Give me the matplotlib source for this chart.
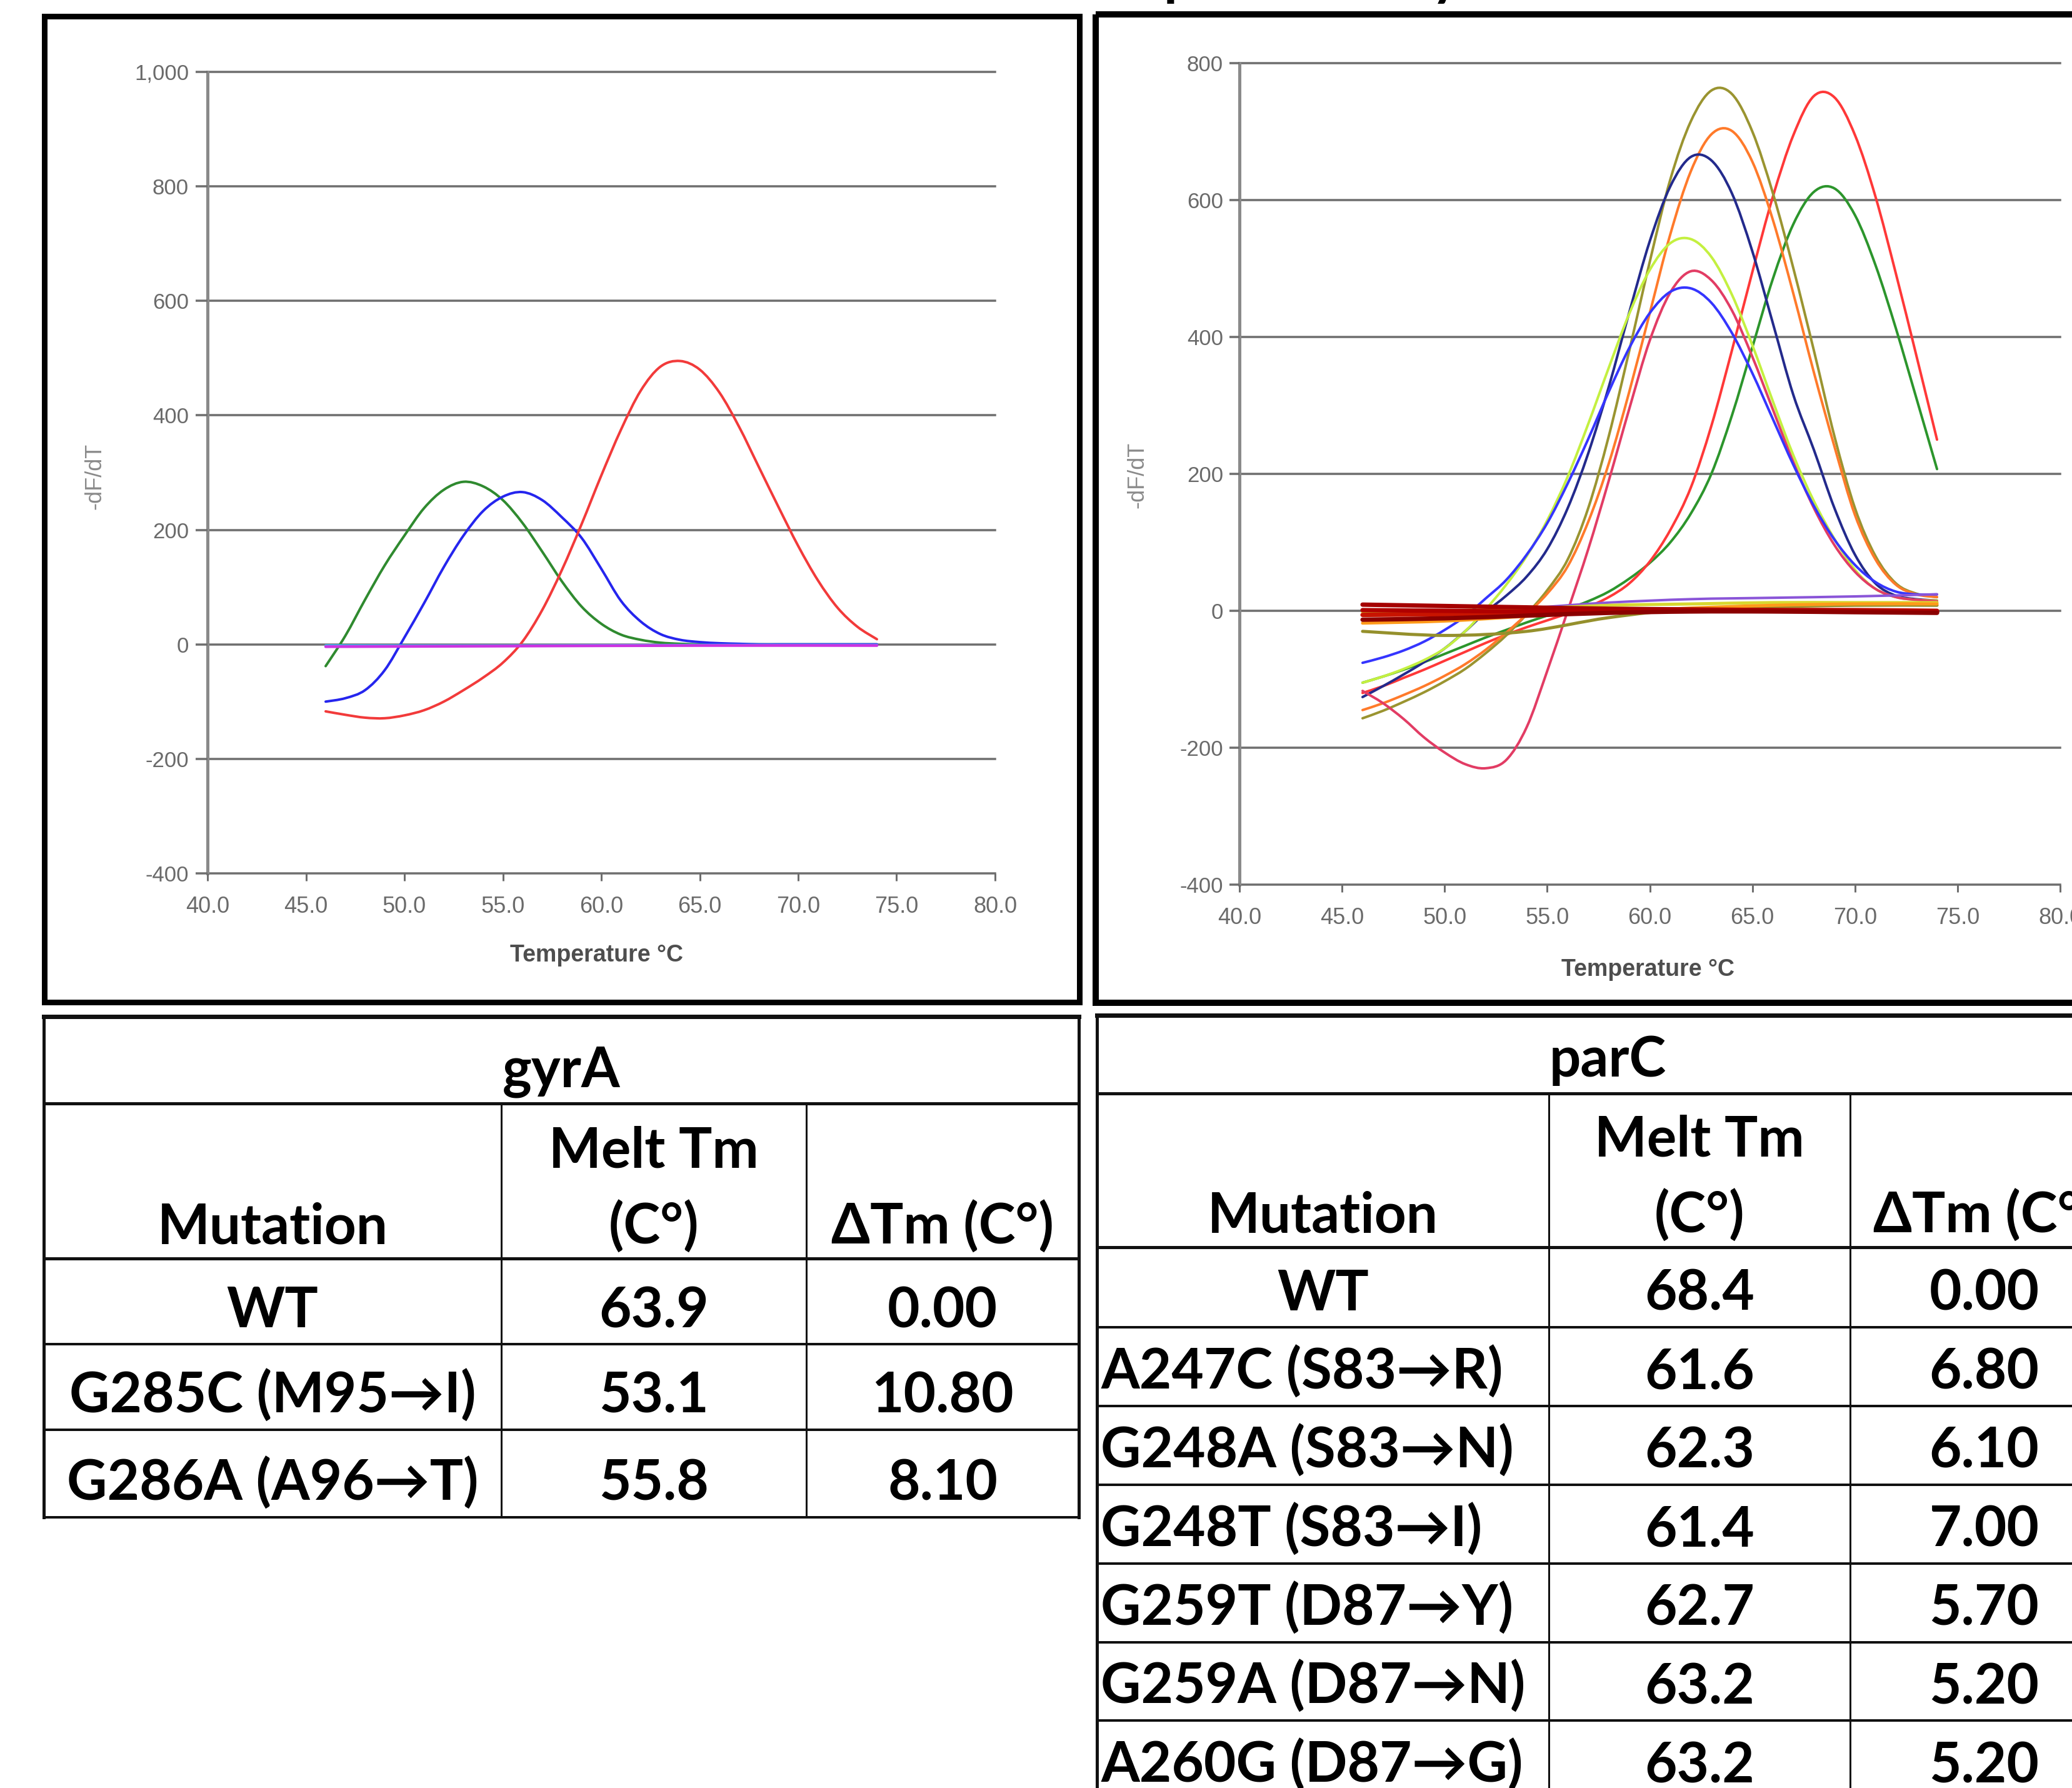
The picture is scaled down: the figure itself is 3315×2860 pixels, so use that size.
import matplotlib
matplotlib.use("Agg")
import matplotlib.pyplot as plt
from matplotlib.patches import Rectangle, PathPatch
from matplotlib.path import Path
from matplotlib.ticker import FuncFormatter

W, H, DPI = 3315, 2860, 100
plt.rcParams['axes.unicode_minus'] = False
plt.rcParams['font.family'] = ['Liberation Sans', 'DejaVu Sans']

# ---------------- data ----------------
temps = list(range(46, 75))

# gyrA  -dF/dT curves
gyrA_wt = [-117, -123, -128, -129, -124, -115, -100, -80, -58, -32, 5, 60, 130, 210, 295,
           375, 443, 485, 495, 480, 440, 380, 310, 240, 172, 112, 64, 31, 9]
gyrA_g285c = [-38, 15, 78, 138, 190, 238, 270, 284, 276, 252, 212, 162, 110, 66, 36,
              17, 8, 3, 1, 0, 0, 0, 0, 0, 0, 0, 0, 0, 0]
gyrA_g286a = [-100, -94, -80, -45, 12, 72, 135, 190, 233, 258, 266, 252, 222, 186, 132,
              76, 40, 18, 8, 4, 2, 1, 0, 0, 0, 0, 0, 0, 0]
gyrA_flat_t = [46, 55, 65, 74]
gyrA_ntc_a = [-4, -3, -2, -2]
gyrA_ntc_b = [-2, -2, -1, -1]

# parC  -dF/dT curves
parC_wt_a = [-120, -110, -98, -86, -73, -60, -47, -35, -24, -14, -4, 6, 20, 40, 72,
             118, 180, 270, 380, 495, 605, 695, 752, 750, 695, 605, 492, 372, 250]
parC_wt_b = [-105, -96, -86, -75, -63, -51, -39, -28, -17, -7, 3, 14, 28, 47, 70,
             100, 142, 200, 285, 385, 485, 565, 612, 617, 578, 505, 412, 310, 207]
parC_olive = [-157, -146, -133, -119, -103, -85, -62, -36, -5, 30, 75, 150, 255, 380, 510,
              630, 715, 760, 755, 700, 610, 500, 380, 255, 150, 80, 40, 25, 20]
parC_orange = [-145, -135, -123, -110, -95, -78, -57, -32, -5, 25, 65, 130, 215, 320, 435,
               550, 642, 696, 701, 656, 571, 463, 348, 240, 140, 75, 38, 24, 20]
parC_navy = [-126, -110, -93, -75, -55, -30, -2, 22, 50, 90, 150, 230, 327, 436, 540,
             620, 663, 658, 610, 525, 420, 315, 235, 150, 82, 40, 22, 17, 15]
parC_ygreen = [-105, -96, -85, -72, -55, -30, 2, 38, 80, 132, 196, 273, 355, 434, 498,
               537, 543, 517, 462, 388, 306, 227, 160, 105, 60, 32, 20, 16, 15]
parC_crimson = [-117, -135, -158, -185, -207, -224, -230, -218, -170, -88, 0, 90, 190, 295, 395,
                465, 496, 483, 439, 371, 294, 217, 150, 96, 57, 32, 20, 16, 14]
parC_blue = [-76, -68, -58, -45, -28, -8, 18, 45, 82, 128, 186, 251, 320, 384, 435,
             466, 471, 450, 406, 347, 280, 213, 153, 104, 67, 42, 28, 24, 24]

parC_flat_t = [46, 50, 54, 58, 62, 66, 70, 74]
parC_flat_purple = [-3, -1, 4, 12, 17, 19, 21, 24]
parC_flat_yellow = [-2, 0, 3, 8, 10, 12, 12, 12]
parC_flat_olive = [-30, -36, -30, -10, 3, 6, 8, 8]
parC_flat_orange = [-18, -15, -8, -2, 4, 8, 10, 10]
parC_flat_red1 = [9, 7, 5, 3, 2, 1, 0, -1]
parC_flat_red2 = [1, 0, -1, -1, 0, 0, -1, -2]
parC_flat_red3 = [-6, -5, -4, -2, 0, 1, 1, 0]
parC_flat_red4 = [-13, -11, -7, -3, -1, -1, -2, -3]

x_ticks = [40, 45, 50, 55, 60, 65, 70, 75, 80]
gyrA_yticks = [-400, -200, 0, 200, 400, 600, 800, 1000]
parC_yticks = [-400, -200, 0, 200, 400, 600, 800]

# tables
gyrA_mut = ["WT", "G285C (M95\u2192I)", "G286A (A96\u2192T)"]
gyrA_tm = [63.9, 53.1, 55.8]
gyrA_dtm = [0.00, 10.80, 8.10]
parC_mut = ["WT", "A247C (S83\u2192R)", "G248A (S83\u2192N)", "G248T (S83\u2192I)",
            "G259T (D87\u2192Y)", "G259A (D87\u2192N)", "A260G (D87\u2192G)"]
parC_tm = [68.4, 61.6, 62.3, 61.4, 62.7, 63.2, 63.2]
parC_dtm = [0.00, 6.80, 6.10, 7.00, 5.70, 5.20, 5.20]

# ---------------- figure ----------------
def px(v):
    return v * 72.0 / DPI

fig = plt.figure(figsize=(W / DPI, H / DPI), dpi=DPI)
fig.patch.set_facecolor('white')

ov = fig.add_axes([0, 0, 1, 1], zorder=0)
ov.set_xlim(0, W)
ov.set_ylim(H, 0)
ov.axis('off')

# chart frames
ov.add_patch(Rectangle((71, 25.5), 1726.5 - 71, 1602.5 - 25.5, fill=False,
                       lw=px(9), ec='black', joinstyle='miter'))
ov.add_patch(Rectangle((1753, 22.5), 3450 - 1753, 1603.5 - 22.5, fill=False,
                       lw=px(10), ec='black', joinstyle='miter'))

GRID = '#6e6e6e'
TICKC = '#6a6a6a'


def chart_axes(rect_px, ylo, yhi, yticks, yfmt, ytick_len, ypad):
    x0, y0, x1, y1 = rect_px
    ax = fig.add_axes([x0 / W, 1 - y1 / H, (x1 - x0) / W, (y1 - y0) / H], zorder=1)
    ax.set_xlim(40, 80)
    ax.set_ylim(ylo, yhi)
    ax.set_facecolor('none')
    for s in ['top', 'right', 'bottom']:
        ax.spines[s].set_visible(False)
    ax.spines['left'].set_color('#8a8a8a')
    ax.spines['left'].set_linewidth(px(5))
    ax.spines['left'].set_zorder(0.6)
    ax.set_xticks(x_ticks)
    ax.set_yticks(yticks)
    ax.yaxis.set_major_formatter(FuncFormatter(yfmt))
    ax.xaxis.set_major_formatter(FuncFormatter(lambda v, p: f'{v:.1f}'))
    for t in yticks:
        ax.axhline(t, color=GRID, lw=px(3.5), zorder=0.5, clip_on=False)
    ax.tick_params(axis='y', length=px(ytick_len), width=px(3.5), color=GRID,
                   pad=px(ypad), labelsize=25, labelcolor=TICKC)
    ax.tick_params(axis='x', length=px(12), width=px(3), color=GRID,
                   pad=px(24), labelsize=26, labelcolor=TICKC)
    return ax


def smooth_line(ax, xs, ys, color, lw, zorder):
    """Draw the read points joined by a smooth (Catmull-Rom) cubic path."""
    pts = list(zip(xs, ys))
    n = len(pts)
    verts = [pts[0]]
    codes = [Path.MOVETO]
    for i in range(n - 1):
        p0 = pts[i - 1] if i > 0 else pts[i]
        p1 = pts[i]
        p2 = pts[i + 1]
        p3 = pts[i + 2] if i + 2 < n else pts[i + 1]
        c1 = (p1[0] + (p2[0] - p0[0]) / 6.0, p1[1] + (p2[1] - p0[1]) / 6.0)
        c2 = (p2[0] - (p3[0] - p1[0]) / 6.0, p2[1] - (p3[1] - p1[1]) / 6.0)
        verts += [c1, c2, p2]
        codes += [Path.CURVE4] * 3
    ax.add_patch(PathPatch(Path(verts, codes), fill=False, edgecolor=color,
                           lw=lw, zorder=zorder, capstyle='round', joinstyle='round'))


ax1 = chart_axes((332, 115, 1592, 1397), -400, 1000, gyrA_yticks,
                 lambda v, p: f'{v:,.0f}', 19, 11)
ax2 = chart_axes((1983, 101, 3296, 1415), -400, 800, parC_yticks,
                 lambda v, p: f'{v:.0f}', 16, 10)

LW = px(4)
# gyrA curves
smooth_line(ax1, temps, gyrA_g285c, '#2f8a2f', LW, 2)
smooth_line(ax1, temps, gyrA_g286a, '#2525ee', LW, 2)
smooth_line(ax1, temps, gyrA_wt, '#f23a3a', LW, 2)
smooth_line(ax1, gyrA_flat_t, gyrA_ntc_b, '#3fb6ff', px(4), 3)
smooth_line(ax1, gyrA_flat_t, gyrA_ntc_a, '#cc33e0', px(4.5), 3)

# parC curves
for ys, c in [(parC_wt_b, '#2c952c'), (parC_wt_a, '#ff3838'),
              (parC_olive, '#9a9430'), (parC_orange, '#ff7a2a'),
              (parC_navy, '#232a8c'), (parC_ygreen, '#c4f040'),
              (parC_crimson, '#e23c64'), (parC_blue, '#3535ff')]:
    smooth_line(ax2, temps, ys, c, LW, 2)
for ys, c, w in [(parC_flat_purple, '#8a55d8', 4), (parC_flat_yellow, '#d8d830', 5),
                 (parC_flat_olive, '#95902c', 5), (parC_flat_orange, '#ff9a1a', 5),
                 (parC_flat_red3, '#c81400', 7), (parC_flat_red1, '#a50000', 7),
                 (parC_flat_red2, '#b00000', 7), (parC_flat_red4, '#8b0000', 7)]:
    smooth_line(ax2, parC_flat_t, ys, c, px(w), 3)

# axis titles
ov.text(955, 1528, 'Temperature \u00b0C', ha='center', va='center', fontsize=27,
        fontweight='bold', color='#4e4e4e')
ov.text(2636, 1551, 'Temperature \u00b0C', ha='center', va='center', fontsize=27,
        fontweight='bold', color='#4e4e4e')
ov.text(152, 762, '-dF/dT', ha='center', va='center', rotation=90, fontsize=26,
        color='#8a8a8a')
ov.text(1820, 760, '-dF/dT', ha='center', va='center', rotation=90, fontsize=26,
        color='#8a8a8a')

# cut-off heading fragments at the very top of the right panel
TF = ['Lato', 'DejaVu Sans']
ov.text(1862, -9, 'p', ha='left', va='baseline', fontsize=64, fontweight='bold',
        family=TF, color='black')
ov.text(2290, -9, 'y', ha='left', va='baseline', fontsize=64, fontweight='bold',
        family=TF, color='black')

# ---------------- tables ----------------
LC = '#111111'


def hl(y, x0, x1, w):
    ov.plot([x0, x1], [y, y], color=LC, lw=px(w), solid_capstyle='projecting', zorder=2)


def vl(x, y0, y1, w):
    ov.plot([x, x], [y0, y1], color=LC, lw=px(w), solid_capstyle='projecting', zorder=2)


def txt(x, y, s, ha='center'):
    ov.text(x, y, s, ha=ha, va='baseline', fontsize=64, fontweight='bold',
            family=TF, color='black', zorder=3)


def draw_table(title, xs, ys, muts, tms, dtms, left_mut=False):
    x0, xa, xb, x1 = xs
    top, ttl, hdr = ys[0], ys[1], ys[2]
    rows = ys[2:]
    hl(top, x0, x1, 7)
    hl(ttl, x0, x1, 5)
    hl(hdr, x0, x1, 5)
    for y in rows[1:]:
        hl(y, x0, x1, 4)
    vl(x0, top, rows[-1], 5)
    vl(x1, top, rows[-1], 5)
    vl(xa, ttl, rows[-1], 3)
    vl(xb, ttl, rows[-1], 3)
    c0, c1, c2 = (x0 + xa) / 2, (xa + xb) / 2, (xb + x1) / 2
    txt((x0 + x1) / 2, ttl - 27, title)
    txt(c1, hdr - 145, 'Melt Tm')
    txt(c1, hdr - 23, '(C\u00b0)')
    txt(c0, hdr - 23, 'Mutation')
    txt(c2, hdr - 23, '\u0394Tm (C\u00b0)')
    for i, (m, t, d) in enumerate(zip(muts, tms, dtms)):
        yb = rows[i + 1] - 27
        if left_mut and i > 0:
            txt(x0 + 6, yb, m, ha='left')
        else:
            txt(c0, yb, m)
        txt(c1, yb, f'{t:.1f}')
        txt(c2, yb, f'{d:.2f}')


draw_table('gyrA', (70, 802, 1290, 1726), (1626, 1765, 2013, 2150, 2287, 2427),
           gyrA_mut, gyrA_tm, gyrA_dtm)
draw_table('parC', (1755, 2478, 2960, 3389),
           (1624, 1749, 1995, 2123, 2249, 2375, 2501, 2627, 2752, 2878),
           parC_mut, parC_tm, parC_dtm, left_mut=True)

fig.savefig('out.png', dpi=DPI, facecolor='white')
